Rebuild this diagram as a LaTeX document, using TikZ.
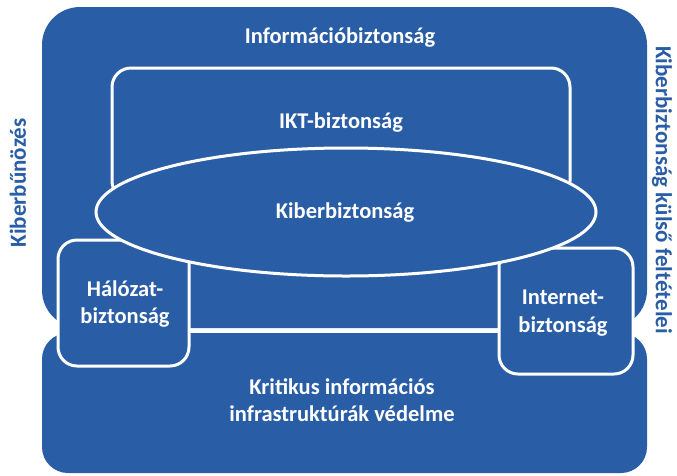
\documentclass[tikz,border=0pt]{standalone}
\usepackage{fontspec}
\setmainfont{Carlito}
\usetikzlibrary{shapes.geometric}
\definecolor{cblue}{RGB}{41,93,166}
\tikzset{
  outerbox/.style={fill=cblue, draw=none, inner sep=0pt, outer sep=0pt},
  innerbox/.style={fill=cblue, draw=white, line width=3pt, inner sep=0pt, rounded corners=19pt},
  lbl/.style={text=white, font=\bfseries\fontsize{22.5}{27.5}\selectfont, align=center, inner sep=0pt},
  sidelbl/.style={text=cblue, font=\bfseries\fontsize{23}{27}\selectfont, inner sep=0pt}
}
\begin{document}
\begin{tikzpicture}[x=1pt,y=-1pt]
\useasboundingbox (0,0) rectangle (677,475);
% outer boxes
\node[outerbox, rounded corners=38pt, minimum width=605pt, minimum height=321pt] (info) at (344.5,167.5) {};
\node[outerbox, rounded corners=26pt, minimum width=605pt, minimum height=140pt] (kiv) at (344.5,403) {};
% inner boxes
\node[innerbox, minimum width=458pt, minimum height=132pt] (ikt) at (341,134) {};
\node[innerbox, minimum width=131pt, minimum height=126pt] (halo) at (123.5,303) {};
\node[innerbox, minimum width=134pt, minimum height=126pt] (inet) at (566,311) {};
\node[ellipse, fill=cblue, draw=white, line width=3pt, inner sep=0pt, minimum width=500pt, minimum height=128pt] (kiber) at (346,212) {};
% labels
\node[lbl] (infoL) at (340,38) {Információbiztonság};
\node[lbl] (iktL) at (341,123) {IKT-biztonság};
\node[lbl] (kiberL) at (345,213) {Kiberbiztonság};
\node[lbl] (haloL) at (125,304) {Hálózat-\\biztonság};
\node[lbl] (inetL) at (563,313) {Internet-\\biztonság};
\node[lbl] (kivL) at (342,400) {Kritikus információs\\infrastruktúrák védelme};
\node[sidelbl, rotate=90] (bunL) at (18,183) {Kiberbűnözés};
\node[sidelbl, rotate=-90] (kulL) at (662,190) {Kiberbiztonság külső feltételei};
\end{tikzpicture}
\end{document}
